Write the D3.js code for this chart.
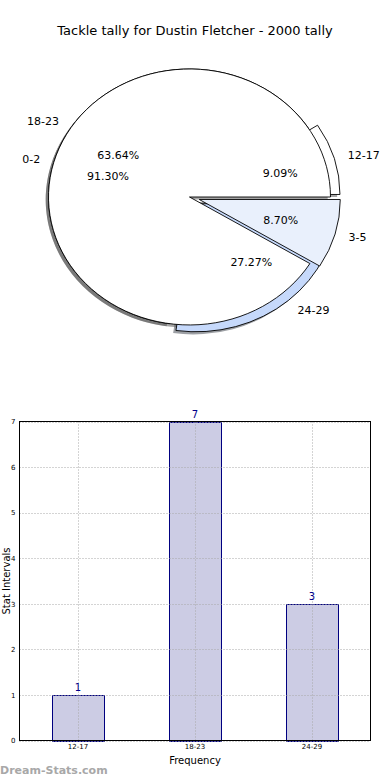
<!DOCTYPE html>
<html>
<head>
<meta charset="utf-8">
<script src="https://cdn.jsdelivr.net/npm/d3@7"></script>
<style>
  body { margin: 0; background: #fff; }
  svg { display: block; font-family: "DejaVu Sans", sans-serif; }
</style>
</head>
<body>
<svg id="chart" width="390" height="780"></svg>
<script>
// pie 1: tackle ranges (drawn on top)
const pieALabels = ["0-2", "3-5"];
const pieAValues = [21, 2];
const pieAColors = ["#ffffff", "#e9f0fc"];
const pieAExplode = [0, 0.072];

// pie 2 + bars: stat intervals
const categories = ["12-17", "18-23", "24-29"];
const counts = [1, 7, 3];
const pieBColors = ["#ffffff", "#ffffff", "#c6d9fb"];
const pieBExplode = [0.07, 0, 0.07];

const yTicks = [0, 1, 2, 3, 4, 5, 6, 7];

const svg = d3.select("#chart");

svg.append("text")
  .attr("x", 195).attr("y", 35)
  .attr("text-anchor", "middle")
  .attr("font-size", 13)
  .text("Tackle tally for Dustin Fletcher - 2000 tally");

// ---------- pie ----------
const cx = 189.5, cy = 197, rx = 141, ry = 128;
const pie = d3.pie().sort(null)
  .startAngle(Math.PI / 2)
  .endAngle(Math.PI / 2 - 2 * Math.PI);
const arc = d3.arc().innerRadius(0).outerRadius(1);

function layout(values, labels, colors, explode) {
  const total = d3.sum(values);
  return pie(values).map((d, i) => {
    const mid = (d.startAngle + d.endAngle) / 2;
    const ux = Math.sin(mid), uy = -Math.cos(mid);
    return {
      arc: d, label: labels[i], color: colors[i],
      pct: (100 * values[i] / total).toFixed(2) + "%",
      ux, uy,
      ox: cx + explode[i] * rx * ux,
      oy: cy + explode[i] * ry * uy
    };
  });
}

const wedgesB = layout(counts, categories, pieBColors, pieBExplode);
const wedgesA = layout(pieAValues, pieALabels, pieAColors, pieAExplode);
const all = wedgesB.concat(wedgesA);

const shade = c => {
  const k = d3.rgb(c);
  return d3.rgb(k.r * 0.3, k.g * 0.3, k.b * 0.3);
};

// shadows under everything
svg.append("g").selectAll("path")
  .data(all)
  .join("path")
  .attr("d", d => arc(d.arc))
  .attr("transform", d => `translate(${d.ox - 2.8},${d.oy + 2.6}) scale(${rx},${ry})`)
  .attr("fill", d => shade(d.color))
  .attr("fill-opacity", 0.5);

svg.append("g").selectAll("path")
  .data(all)
  .join("path")
  .attr("d", d => arc(d.arc))
  .attr("transform", d => `translate(${d.ox},${d.oy}) scale(${rx},${ry})`)
  .attr("fill", d => d.color)
  .attr("stroke", "#000")
  .attr("stroke-width", 0.9)
  .attr("stroke-linejoin", "round")
  .attr("vector-effect", "non-scaling-stroke");

const txt = svg.append("g").attr("font-size", 11).attr("fill", "#000");
txt.selectAll("text.lab")
  .data(all)
  .join("text")
  .attr("class", "lab")
  .attr("x", d => d.ox + 1.1 * rx * d.ux)
  .attr("y", d => d.oy + 1.1 * ry * d.uy)
  .attr("dy", "0.35em")
  .attr("text-anchor", d => d.ux < 0 ? "end" : "start")
  .text(d => d.label);
txt.selectAll("text.pct")
  .data(all)
  .join("text")
  .attr("class", "pct")
  .attr("x", d => d.ox + 0.6 * rx * d.ux)
  .attr("y", d => d.oy + 0.6 * ry * d.uy)
  .attr("dy", "0.35em")
  .attr("text-anchor", "middle")
  .text(d => d.pct);

// ---------- bars ----------
const m = { left: 19.5, right: 370.5, top: 421.5, bottom: 740.5 };
const x = d3.scaleBand().domain(categories)
  .range([m.left, m.right])
  .paddingInner(0.556).paddingOuter(0.278);
const y = d3.scaleLinear().domain([0, 7]).range([m.bottom, m.top]);

const grid = svg.append("g")
  .attr("stroke", "#a8a8a8")
  .attr("stroke-width", 1)
  .attr("stroke-dasharray", "1,2");
grid.selectAll("line.h")
  .data(yTicks)
  .join("line").attr("class", "h")
  .attr("x1", m.left).attr("x2", m.right)
  .attr("y1", d => Math.round(y(d)) + 0.5).attr("y2", d => Math.round(y(d)) + 0.5);
grid.selectAll("line.v")
  .data(categories)
  .join("line").attr("class", "v")
  .attr("x1", d => Math.round(x(d) + x.bandwidth() / 2) + 0.5)
  .attr("x2", d => Math.round(x(d) + x.bandwidth() / 2) + 0.5)
  .attr("y1", m.top).attr("y2", m.bottom);

svg.append("g").selectAll("rect")
  .data(categories)
  .join("rect")
  .attr("x", d => Math.round(x(d)) + 0.5)
  .attr("y", (d, i) => Math.round(y(counts[i])) + 0.5)
  .attr("width", Math.round(x.bandwidth()))
  .attr("height", (d, i) => Math.round(y(0)) - Math.round(y(counts[i])))
  .attr("fill", "#cccce4")
  .attr("stroke", "#000080")
  .attr("stroke-width", 1);

// grid over bars (dotted lines show through in the reference)
grid.raise();

svg.append("g").selectAll("text")
  .data(categories)
  .join("text")
  .attr("x", d => x(d) + x.bandwidth() / 2)
  .attr("y", (d, i) => y(counts[i]) - 4)
  .attr("text-anchor", "middle")
  .attr("font-size", 10)
  .attr("fill", "#00008b")
  .text((d, i) => counts[i]);

svg.append("rect")
  .attr("x", m.left).attr("y", m.top)
  .attr("width", m.right - m.left).attr("height", m.bottom - m.top)
  .attr("fill", "none").attr("stroke", "#000").attr("stroke-width", 1);

const yAxis = svg.append("g")
  .attr("transform", `translate(${m.left},0)`)
  .call(d3.axisLeft(y).tickValues(yTicks).tickSize(0).tickPadding(4).tickFormat(d3.format("d")));
yAxis.select(".domain").remove();
yAxis.selectAll("text").attr("font-size", 7).attr("font-family", "DejaVu Sans");

const xAxis = svg.append("g")
  .attr("transform", `translate(0,${m.bottom})`)
  .call(d3.axisBottom(x).tickSize(0).tickPadding(4));
xAxis.select(".domain").remove();
xAxis.selectAll("text").attr("font-size", 7).attr("font-family", "DejaVu Sans");

svg.append("text")
  .attr("x", (m.left + m.right) / 2).attr("y", 764)
  .attr("text-anchor", "middle").attr("font-size", 10)
  .text("Frequency");

svg.append("text")
  .attr("transform", `translate(9.5,${(m.top + m.bottom) / 2}) rotate(-90)`)
  .attr("text-anchor", "middle").attr("font-size", 10)
  .text("Stat Intervals");

svg.append("text")
  .attr("x", 0).attr("y", 774)
  .attr("font-size", 11).attr("font-weight", "bold")
  .attr("fill", "#a8a8a8")
  .text("Dream-Stats.com");
</script>
</body>
</html>
